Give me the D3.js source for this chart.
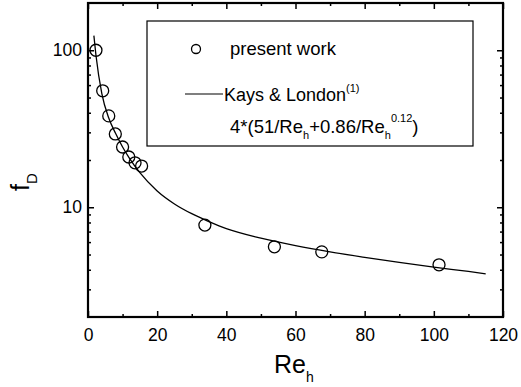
<!DOCTYPE html>
<html>
<head>
<meta charset="utf-8">
<script src="https://cdn.jsdelivr.net/npm/d3@7"></script>
<style>
  body { margin: 0; background: #fff; }
  text { font-family: "Liberation Sans", Arial, sans-serif; fill: #000; }
</style>
</head>
<body>
<div id="chart"></div>
<script>
// measured points (present work)
const reData = [2.3, 4.25, 6.0, 7.9, 10.0, 11.8, 13.6, 15.5, 33.8, 53.9, 67.6, 101.5];
const fData = [100, 55.2, 38.2, 29.3, 24.2, 20.9, 19.2, 18.3, 7.7, 5.6, 5.2, 4.3];

// Kays & London curve
const reCurve = [1.7, 2.3, 4, 6, 8, 10, 12, 15, 20, 25, 30, 35, 40, 50, 60, 70, 80, 90, 100, 110, 115];
const fCurve = [124, 93, 53, 37, 29.5, 24.2, 20.5, 16.6, 12.7, 10.5, 9.1, 8.1, 7.3, 6.35, 5.7, 5.2, 4.8, 4.45, 4.15, 3.9, 3.77];

const xTicks = [0, 20, 40, 60, 80, 100, 120];
const xMinor = [10, 30, 50, 70, 90, 110];
const yTicks = [10, 100];
const yMinor = [3, 4, 5, 6, 7, 8, 9, 20, 30, 40, 50, 60, 70, 80, 90];

const config = {
    width: 521, height: 387,
    margin: { top: 3, right: 18, bottom: 70, left: 88 }
};
const w = config.width - config.margin.left - config.margin.right;
const h = config.height - config.margin.top - config.margin.bottom;

const svg = d3.select('#chart').append('svg')
    .attr('width', config.width)
    .attr('height', config.height);
const chart = svg.append('g')
    .attr('transform', `translate(${config.margin.left},${config.margin.top})`);

const x = d3.scaleLinear().domain([0, 120]).range([0, w]);
const y = d3.scaleLog().domain([2, 200]).range([h, 0]);

// axes, ticks inside
function styleAxis(g) {
    g.select('.domain').remove();
    g.selectAll('.tick line').attr('stroke', '#000').attr('stroke-width', 1.5);
    g.selectAll('.tick text').style('font-size', '17.5px').style('font-family', '"Liberation Sans", Arial, sans-serif');
}
chart.append('g').attr('transform', `translate(0,${h})`)
    .call(d3.axisBottom(x).tickValues(xTicks).tickSize(-6).tickPadding(12).tickFormat(d3.format('d')))
    .call(styleAxis);
chart.append('g').attr('transform', `translate(0,${h})`)
    .call(d3.axisBottom(x).tickValues(xMinor).tickSize(-3).tickFormat(''))
    .call(styleAxis);
chart.append('g')
    .call(d3.axisTop(x).tickValues(xTicks).tickSize(-6).tickFormat(''))
    .call(styleAxis);
chart.append('g')
    .call(d3.axisTop(x).tickValues(xMinor).tickSize(-3).tickFormat(''))
    .call(styleAxis);

chart.append('g')
    .call(d3.axisLeft(y).tickValues(yTicks).tickSize(-6).tickPadding(6).tickFormat(d3.format('d')))
    .call(styleAxis);
chart.append('g')
    .call(d3.axisLeft(y).tickValues(yMinor).tickSize(-3).tickFormat(''))
    .call(styleAxis);
chart.append('g').attr('transform', `translate(${w},0)`)
    .call(d3.axisRight(y).tickValues(yTicks).tickSize(-6).tickFormat(''))
    .call(styleAxis);
chart.append('g').attr('transform', `translate(${w},0)`)
    .call(d3.axisRight(y).tickValues(yMinor).tickSize(-3).tickFormat(''))
    .call(styleAxis);

// frame
chart.append('rect')
    .attr('width', w).attr('height', h)
    .attr('fill', 'none').attr('stroke', '#000').attr('stroke-width', 2.2);

// curve
const curvePts = reCurve.map((r, i) => [r, fCurve[i]]);
chart.append('path')
    .datum(curvePts)
    .attr('fill', 'none')
    .attr('stroke', '#000')
    .attr('stroke-width', 1.3)
    .attr('d', d3.line().x(d => x(d[0])).y(d => y(d[1])).curve(d3.curveMonotoneX));

// symbols
chart.selectAll('.pt')
    .data(reData.map((r, i) => [r, fData[i]]))
    .join('circle')
    .attr('class', 'pt')
    .attr('cx', d => x(d[0]))
    .attr('cy', d => y(d[1]))
    .attr('r', 6)
    .attr('fill', 'none')
    .attr('stroke', '#000')
    .attr('stroke-width', 1.3);

// legend
const legend = svg.append('g');
legend.append('rect')
    .attr('x', 147).attr('y', 21).attr('width', 326).attr('height', 125)
    .attr('fill', '#fff').attr('stroke', '#000').attr('stroke-width', 1.2);
legend.append('circle')
    .attr('cx', 196).attr('cy', 49).attr('r', 4.5)
    .attr('fill', 'none').attr('stroke', '#000').attr('stroke-width', 1.3);
legend.append('text').attr('x', 230).attr('y', 55)
    .style('font-size', '18.5px').text('present work');
legend.append('line')
    .attr('x1', 185).attr('x2', 223).attr('y1', 94).attr('y2', 94)
    .attr('stroke', '#000').attr('stroke-width', 1.2);
const kl = legend.append('text').attr('x', 224).attr('y', 101).style('font-size', '18px');
kl.append('tspan').text('Kays & London');
kl.append('tspan').attr('dy', -9).style('font-size', '11px').text('(1)');
const fm = legend.append('text').attr('x', 230).attr('y', 133).style('font-size', '18.5px');
fm.append('tspan').text('4*(51/Re');
fm.append('tspan').attr('dy', 6).style('font-size', '11px').text('h');
fm.append('tspan').attr('dy', -6).text('+0.86/Re');
fm.append('tspan').attr('dy', 6).style('font-size', '11px').text('h');
fm.append('tspan').attr('dy', -17).style('font-size', '11px').text('0.12');
fm.append('tspan').attr('dy', 11).text(')');

// axis titles
const xl = svg.append('text').attr('x', 274).attr('y', 373).style('font-size', '25px');
xl.append('tspan').text('Re');
xl.append('tspan').attr('dy', 9).style('font-size', '14px').text('h');

const yl = svg.append('text').attr('transform', 'translate(29,191) rotate(-90)').style('font-size', '25px');
yl.append('tspan').text('f');
yl.append('tspan').attr('dy', 8).style('font-size', '15px').text('D');
</script>
</body>
</html>
